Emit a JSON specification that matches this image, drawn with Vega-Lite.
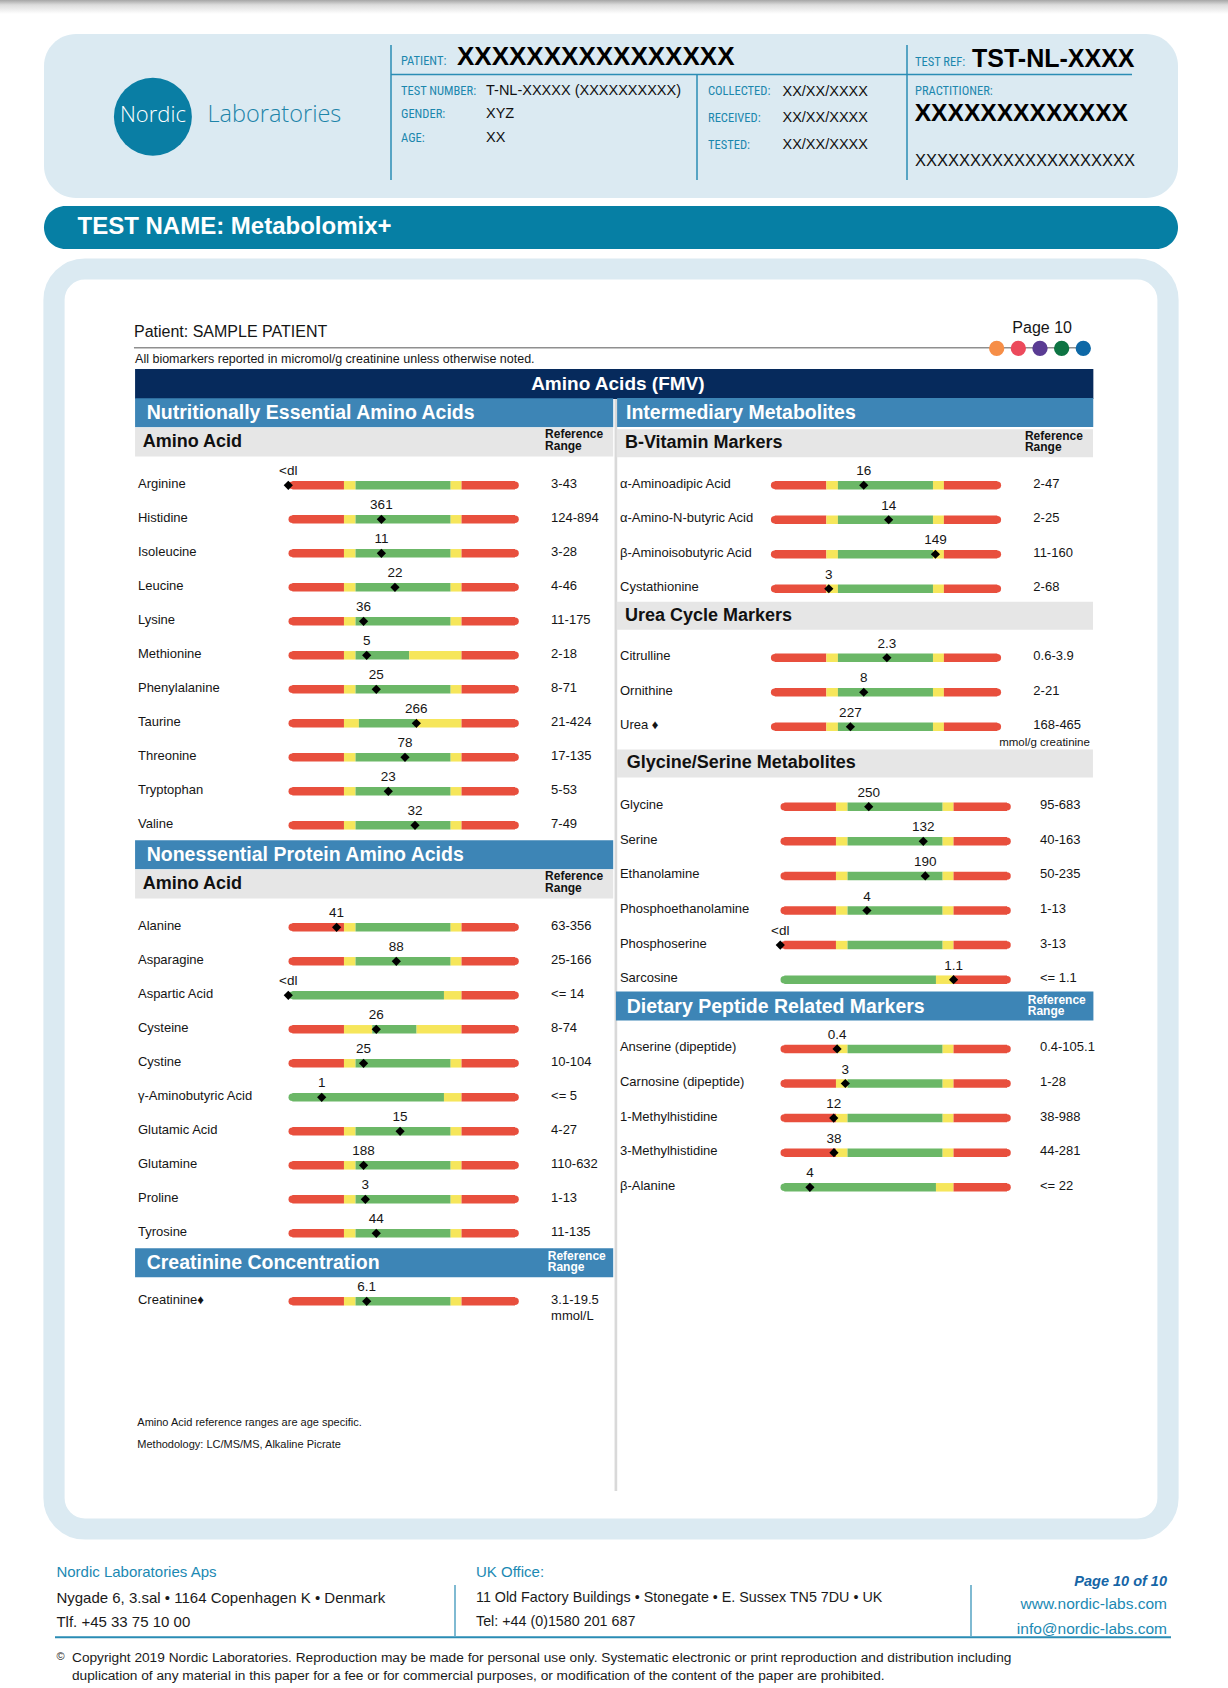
{
  "$schema": "https://vega.github.io/schema/vega-lite/v6.json",
  "background": "white",
  "padding": {"left": 0, "top": 0, "right": 0, "bottom": 0},
  "config": {
    "view": {"stroke": null},
    "axis": {"disable": true},
    "legend": {"disable": true},
    "text": {"font": "Liberation Sans, Arial, Helvetica, sans-serif", "color": "#151515"}
  },
  "datasets": {
    "profiles": [
      {"profile": "std", "a": [0, 23.2, 28.4, 71.1, 76], "b": [23.2, 28.4, 71.1, 76, 100], "z": ["out", "edge", "in", "edge", "out"]},
      {"profile": "met", "a": [0, 23.2, 28.4, 52.5, 76], "b": [23.2, 28.4, 52.5, 76, 100], "z": ["out", "edge", "in", "edge", "out"]},
      {"profile": "tau", "a": [0, 23.2, 29.9, 55.1, 76], "b": [23.2, 29.9, 55.1, 76, 100], "z": ["out", "edge", "in", "edge", "out"]},
      {"profile": "cys", "a": [0, 23.2, 35.9, 55.8, 76], "b": [23.2, 35.9, 55.8, 76, 100], "z": ["out", "edge", "in", "edge", "out"]},
      {"profile": "max", "a": [0, 68.1, 76], "b": [68.1, 76, 100], "z": ["in", "edge", "out"]}
    ],
    "left": [
      {"row": "Arginine", "val": "<dl", "pos": -1.8, "range": "3-43", "profile": "std"},
      {"row": "Histidine", "val": "361", "pos": 40.0, "range": "124-894", "profile": "std"},
      {"row": "Isoleucine", "val": "11", "pos": 40.0, "range": "3-28", "profile": "std"},
      {"row": "Leucine", "val": "22", "pos": 46.1, "range": "4-46", "profile": "std"},
      {"row": "Lysine", "val": "36", "pos": 32.0, "range": "11-175", "profile": "std"},
      {"row": "Methionine", "val": "5", "pos": 33.4, "range": "2-18", "profile": "met"},
      {"row": "Phenylalanine", "val": "25", "pos": 37.7, "range": "8-71", "profile": "std"},
      {"row": "Taurine", "val": "266", "pos": 55.7, "range": "21-424", "profile": "tau"},
      {"row": "Threonine", "val": "78", "pos": 50.6, "range": "17-135", "profile": "std"},
      {"row": "Tryptophan", "val": "23", "pos": 43.1, "range": "5-53", "profile": "std"},
      {"row": "Valine", "val": "32", "pos": 55.1, "range": "7-49", "profile": "std"},
      {"row": "Alanine", "val": "41", "pos": 19.9, "range": "63-356", "profile": "std"},
      {"row": "Asparagine", "val": "88", "pos": 46.7, "range": "25-166", "profile": "std"},
      {"row": "Aspartic Acid", "val": "<dl", "pos": -1.8, "range": "<= 14", "profile": "max"},
      {"row": "Cysteine", "val": "26", "pos": 37.7, "range": "8-74", "profile": "cys"},
      {"row": "Cystine", "val": "25", "pos": 32.0, "range": "10-104", "profile": "std"},
      {"row": "γ-Aminobutyric Acid", "val": "1", "pos": 13.2, "range": "<= 5", "profile": "max"},
      {"row": "Glutamic Acid", "val": "15", "pos": 48.4, "range": "4-27", "profile": "std"},
      {"row": "Glutamine", "val": "188", "pos": 32.0, "range": "110-632", "profile": "std"},
      {"row": "Proline", "val": "3", "pos": 32.8, "range": "1-13", "profile": "std"},
      {"row": "Tyrosine", "val": "44", "pos": 37.7, "range": "11-135", "profile": "std"},
      {"row": "Creatinine♦", "val": "6.1", "pos": 33.4, "range": "3.1-19.5", "unit": "mmol/L", "profile": "std"}
    ],
    "leftHead": [
      {"row": "h1", "kind": "blue", "label": "Nutritionally Essential Amino Acids"},
      {"row": "h2", "kind": "grey", "label": "Amino Acid", "ref": "Reference\nRange"},
      {"row": "h3", "kind": "blue", "label": "Nonessential Protein Amino Acids"},
      {"row": "h4", "kind": "grey", "label": "Amino Acid", "ref": "Reference\nRange"},
      {"row": "h5", "kind": "blue", "label": "Creatinine Concentration", "ref": "Reference\nRange"},
      {"row": "notes", "kind": "note", "label": "Amino Acid reference ranges are age specific.\nMethodology: LC/MS/MS, Alkaline Picrate"}
    ],
    "ru": [
      {"row": "α-Aminoadipic Acid", "val": "16", "pos": 40.0, "range": "2-47", "profile": "std"},
      {"row": "α-Amino-N-butyric Acid", "val": "14", "pos": 51.2, "range": "2-25", "profile": "std"},
      {"row": "β-Aminoisobutyric Acid", "val": "149", "pos": 72.2, "range": "11-160", "profile": "std"},
      {"row": "Cystathionine", "val": "3", "pos": 24.3, "range": "2-68", "profile": "std"},
      {"row": "Citrulline", "val": "2.3", "pos": 50.4, "range": "0.6-3.9", "profile": "std"},
      {"row": "Ornithine", "val": "8", "pos": 40.0, "range": "2-21", "profile": "std"},
      {"row": "Urea ♦", "val": "227", "pos": 34.0, "range": "168-465", "unit": "mmol/g creatinine", "profile": "std"}
    ],
    "ruHead": [
      {"row": "i1", "kind": "blue", "label": "Intermediary Metabolites"},
      {"row": "i2", "kind": "grey", "label": "B-Vitamin Markers", "ref": "Reference\nRange"},
      {"row": "u1", "kind": "grey", "label": "Urea Cycle Markers"}
    ],
    "rl": [
      {"row": "Glycine", "val": "250", "pos": 37.9, "range": "95-683", "profile": "std"},
      {"row": "Serine", "val": "132", "pos": 62.4, "range": "40-163", "profile": "std"},
      {"row": "Ethanolamine", "val": "190", "pos": 63.3, "range": "50-235", "profile": "std"},
      {"row": "Phosphoethanolamine", "val": "4", "pos": 37.1, "range": "1-13", "profile": "std"},
      {"row": "Phosphoserine", "val": "<dl", "pos": -1.8, "range": "3-13", "profile": "std"},
      {"row": "Sarcosine", "val": "1.1", "pos": 76.0, "range": "<= 1.1", "profile": "max"},
      {"row": "Anserine (dipeptide)", "val": "0.4", "pos": 23.7, "range": "0.4-105.1", "profile": "std"},
      {"row": "Carnosine (dipeptide)", "val": "3", "pos": 27.4, "range": "1-28", "profile": "std"},
      {"row": "1-Methylhistidine", "val": "12", "pos": 22.2, "range": "38-988", "profile": "std"},
      {"row": "3-Methylhistidine", "val": "38", "pos": 22.3, "range": "44-281", "profile": "std"},
      {"row": "β-Alanine", "val": "4", "pos": 11.5, "range": "<= 22", "profile": "max"}
    ],
    "rlHead": [
      {"row": "g1", "kind": "grey", "label": "Glycine/Serine Metabolites"},
      {"row": "d1", "kind": "blue", "label": "Dietary Peptide Related Markers", "ref": "Reference\nRange"}
    ]
  },
  "spacing": 8,
  "center": true,
  "bounds": "flush",
  "vconcat": [
    {
      "width": 1222,
      "height": 26,
      "data": {"values": [{"t": "page edge shadow"}]},
      "mark": {"type": "rect", "color": {"gradient": "linear", "x1": 0, "y1": 0, "x2": 0, "y2": 1, "stops": [{"offset": 0, "color": "#a6a6a6"}, {"offset": 0.35, "color": "#dcdcdc"}, {"offset": 1, "color": "#ffffff"}]}},
      "encoding": {
        "x": {"datum": 0, "scale": {"domain": [0, 1222], "range": [0, 1222], "nice": false, "zero": false}},
        "x2": {"datum": 1228},
        "y": {"datum": 0, "scale": {"domain": [0, 26], "range": [0, 26], "nice": false, "zero": false}},
        "y2": {"datum": 14}
      }
    },
    {
      "width": 1134,
      "height": 164,
      "view": {"fill": "#dbeaf2", "cornerRadius": 32, "stroke": null},
      "layer": [
        {"data": {"values": [{"t": "logo"}]}, "mark": {"type": "circle", "size": 6082, "opacity": 1, "color": "#0a7ea4"},
         "encoding": {"x": {"datum": 108.9, "scale": {"domain": [0, 1134], "range": [0, 1134], "nice": false, "zero": false}}, "y": {"datum": 82.7, "scale": {"domain": [0, 164], "range": [0, 164], "nice": false, "zero": false}}}},
        {"data": {"values": [{"t": "Nordic"}]}, "mark": {"type": "text", "font": "Open Sans, Lato, sans-serif", "fontWeight": 300, "fontSize": 22, "color": "white"},
         "encoding": {"x": {"datum": 108.9}, "y": {"datum": 81}, "text": {"field": "t"}}},
        {"data": {"values": [{"t": "Laboratories"}]}, "mark": {"type": "text", "align": "left", "font": "Open Sans, Lato, sans-serif", "fontWeight": 300, "fontSize": 23.5, "color": "#1d84a9"},
         "encoding": {"x": {"datum": 163.5}, "y": {"datum": 81}, "text": {"field": "t"}}},
        {"data": {"values": [{"t": "divider"}]}, "mark": {"type": "rule", "color": "#2a8db5", "strokeWidth": 1.5},
         "encoding": {"x": {"datum": 347}, "y": {"datum": 11}, "y2": {"datum": 146}}},
        {"data": {"values": [{"t": "divider"}]}, "mark": {"type": "rule", "color": "#2a8db5", "strokeWidth": 1.5},
         "encoding": {"x": {"datum": 653}, "y": {"datum": 41}, "y2": {"datum": 146}}},
        {"data": {"values": [{"t": "divider"}]}, "mark": {"type": "rule", "color": "#2a8db5", "strokeWidth": 1.5},
         "encoding": {"x": {"datum": 863}, "y": {"datum": 11}, "y2": {"datum": 146}}},
        {"data": {"values": [{"t": "divider"}]}, "mark": {"type": "rule", "color": "#2a8db5", "strokeWidth": 1.5},
         "encoding": {"x": {"datum": 347}, "x2": {"datum": 1088}, "y": {"datum": 40.5}}},
        {"data": {"values": [{"t": "PATIENT:"}]}, "mark": {"type": "text", "align": "left", "font": "Liberation Sans Narrow, Arial Narrow, Roboto Condensed, DejaVu Sans Condensed, sans-serif", "fontSize": 12.5, "color": "#1b87ae"},
         "encoding": {"x": {"datum": 357}, "y": {"datum": 27}, "text": {"field": "t"}}},
        {"data": {"values": [{"t": "XXXXXXXXXXXXXXXX"}]}, "mark": {"type": "text", "align": "left", "fontSize": 26, "fontWeight": "bold", "color": "#000"},
         "encoding": {"x": {"datum": 413}, "y": {"datum": 23}, "text": {"field": "t"}}},
        {"data": {"values": [{"t": "TEST NUMBER:\nGENDER:\nAGE:"}]}, "mark": {"type": "text", "align": "left", "baseline": "top", "lineBreak": "\n", "lineHeight": 23.7, "font": "Liberation Sans Narrow, Arial Narrow, Roboto Condensed, DejaVu Sans Condensed, sans-serif", "fontSize": 12.5, "color": "#1b87ae"},
         "encoding": {"x": {"datum": 357}, "y": {"datum": 50.6}, "text": {"field": "t"}}},
        {"data": {"values": [{"t": "T-NL-XXXXX (XXXXXXXXXX)\nXYZ\nXX"}]}, "mark": {"type": "text", "align": "left", "baseline": "top", "lineBreak": "\n", "lineHeight": 23.7, "fontSize": 14.5, "color": "#111"},
         "encoding": {"x": {"datum": 442}, "y": {"datum": 49.8}, "text": {"field": "t"}}},
        {"data": {"values": [{"t": "COLLECTED:\nRECEIVED:\nTESTED:"}]}, "mark": {"type": "text", "align": "left", "baseline": "top", "lineBreak": "\n", "lineHeight": 26.7, "font": "Liberation Sans Narrow, Arial Narrow, Roboto Condensed, DejaVu Sans Condensed, sans-serif", "fontSize": 12.5, "color": "#1b87ae"},
         "encoding": {"x": {"datum": 664}, "y": {"datum": 51.3}, "text": {"field": "t"}}},
        {"data": {"values": [{"t": "XX/XX/XXXX\nXX/XX/XXXX\nXX/XX/XXXX"}]}, "mark": {"type": "text", "align": "left", "baseline": "top", "lineBreak": "\n", "lineHeight": 26.7, "fontSize": 14.5, "color": "#111"},
         "encoding": {"x": {"datum": 738.5}, "y": {"datum": 50.5}, "text": {"field": "t"}}},
        {"data": {"values": [{"t": "TEST REF:"}]}, "mark": {"type": "text", "align": "left", "font": "Liberation Sans Narrow, Arial Narrow, Roboto Condensed, DejaVu Sans Condensed, sans-serif", "fontSize": 12.5, "color": "#1b87ae"},
         "encoding": {"x": {"datum": 871}, "y": {"datum": 27.7}, "text": {"field": "t"}}},
        {"data": {"values": [{"t": "TST-NL-XXXX"}]}, "mark": {"type": "text", "align": "left", "fontSize": 25, "fontWeight": "bold", "color": "#000"},
         "encoding": {"x": {"datum": 928}, "y": {"datum": 25.3}, "text": {"field": "t"}}},
        {"data": {"values": [{"t": "PRACTITIONER:"}]}, "mark": {"type": "text", "align": "left", "font": "Liberation Sans Narrow, Arial Narrow, Roboto Condensed, DejaVu Sans Condensed, sans-serif", "fontSize": 12.5, "color": "#1b87ae"},
         "encoding": {"x": {"datum": 871}, "y": {"datum": 56.7}, "text": {"field": "t"}}},
        {"data": {"values": [{"t": "XXXXXXXXXXXXX"}]}, "mark": {"type": "text", "align": "left", "fontSize": 24.6, "fontWeight": "bold", "color": "#000"},
         "encoding": {"x": {"datum": 870.7}, "y": {"datum": 80.3}, "text": {"field": "t"}}},
        {"data": {"values": [{"t": "XXXXXXXXXXXXXXXXXXXX"}]}, "mark": {"type": "text", "align": "left", "fontSize": 16.5, "color": "#111"},
         "encoding": {"x": {"datum": 871}, "y": {"datum": 126.7}, "text": {"field": "t"}}}
      ]
    },
    {
      "width": 1134,
      "height": 43,
      "view": {"fill": "#067fa4", "cornerRadius": 21.5, "stroke": null},
      "data": {"values": [{"t": "TEST NAME: Metabolomix+"}]},
      "mark": {"type": "text", "align": "left", "color": "white", "fontSize": 24, "fontWeight": "bold"},
      "encoding": {
        "text": {"field": "t"},
        "x": {"datum": 33.5, "scale": {"domain": [0, 1134], "range": [0, 1134], "nice": false, "zero": false}},
        "y": {"datum": 20.7, "scale": {"domain": [0, 43], "range": [0, 43], "nice": false, "zero": false}}
      }
    },
    {
      "width": 1134,
      "height": 4,
      "data": {"values": []},
      "mark": {"type": "point"}
    },
    {
      "width": 1114,
      "height": 1260,
      "view": {"fill": "white", "stroke": "#dbeaf2", "strokeWidth": 21.2, "cornerRadius": 31},
      "resolve": {"scale": {"x": "independent", "y": "independent", "color": "independent"}},
      "layer": [
        {
          "layer": [
            {"data": {"values": [{"slot": "top1"}]},
             "mark": {"type": "bar", "color": "#062a5c", "height": 30},
             "encoding": {
               "y": {"field": "slot", "type": "nominal", "scale": {"domain": ["top2", "top1"], "range": [60.5, 133.1], "paddingInner": 0, "paddingOuter": 0}},
               "x": {"datum": -70.6, "scale": {"domain": [0, 100], "range": [238.3, 461], "nice": false, "zero": false}},
               "x2": {"datum": 359.7}}},
            {"data": {"values": [{"slot": "top1", "t": "Amino Acids (FMV)"}]},
             "mark": {"type": "text", "color": "white", "fontSize": 19, "fontWeight": "bold"},
             "encoding": {"y": {"field": "slot", "type": "nominal"}, "x": {"datum": 146.2}, "text": {"field": "t"}}},
            {"data": {"values": [{"slot": "top2"}]},
             "mark": {"type": "bar", "color": "#8f8f8f", "height": 1.5},
             "encoding": {"y": {"field": "slot", "type": "nominal"}, "x": {"datum": -71.1}, "x2": {"datum": 356}}},
            {"data": {"values": [{"slot": "top2", "t": "Patient: SAMPLE PATIENT"}]},
             "mark": {"type": "text", "align": "left", "fontSize": 16, "dy": -16},
             "encoding": {"y": {"field": "slot", "type": "nominal"}, "x": {"datum": -71.1}, "text": {"field": "t"}}},
            {"data": {"values": [{"slot": "top2", "t": "Page 10"}]},
             "mark": {"type": "text", "align": "right", "fontSize": 16, "dy": -20},
             "encoding": {"y": {"field": "slot", "type": "nominal"}, "x": {"datum": 350.1}, "text": {"field": "t"}}},
            {"data": {"values": [{"slot": "top2", "t": "All biomarkers reported in micromol/g creatinine unless otherwise noted."}]},
             "mark": {"type": "text", "align": "left", "fontSize": 12.5, "dy": 11.6},
             "encoding": {"y": {"field": "slot", "type": "nominal"}, "x": {"datum": -70.6}, "text": {"field": "t"}}}
          ]
        },
        {
          "data": {"values": [{"dot": "orange", "g": "dots"}, {"dot": "red", "g": "dots"}, {"dot": "purple", "g": "dots"}, {"dot": "green", "g": "dots"}, {"dot": "blue", "g": "dots"}]},
          "mark": {"type": "circle", "size": 235, "opacity": 1},
          "encoding": {
            "x": {"field": "dot", "type": "nominal", "scale": {"type": "point", "domain": ["orange", "red", "purple", "green", "blue"], "range": [942.7, 1029.3], "padding": 0}},
            "y": {"field": "g", "type": "nominal", "scale": {"type": "band", "domain": ["dots"], "range": [70.3, 88.3], "paddingInner": 0, "paddingOuter": 0}},
            "color": {"field": "dot", "type": "nominal", "scale": {"domain": ["orange", "red", "purple", "green", "blue"], "range": ["#f68e47", "#ec4a5c", "#5a3c93", "#0e7443", "#0e68a6"]}}
          }
        },
        {
          "data": {"values": [{"slot": "sep"}]},
          "mark": {"type": "bar", "color": "#d9d9d9"},
          "encoding": {
            "y": {"field": "slot", "type": "nominal", "scale": {"domain": ["sep"], "range": [130, 1222], "paddingInner": 0, "paddingOuter": 0}},
            "x": {"datum": 144.7, "scale": {"domain": [0, 100], "range": [238.3, 461], "nice": false, "zero": false}},
            "x2": {"datum": 145.9}
          }
        },
        {
          "layer": [
            {"data": {"name": "leftHead"}, "transform": [{"filter": "datum.kind == 'blue'"}],
             "mark": {"type": "bar", "color": "#3d85b6", "height": 29, "yOffset": -4.5},
             "encoding": {
               "y": {"field": "row", "type": "nominal", "scale": {"domain": ["h1", "h2", "Arginine", "Histidine", "Isoleucine", "Leucine", "Lysine", "Methionine", "Phenylalanine", "Taurine", "Threonine", "Tryptophan", "Valine", "h3", "h4", "Alanine", "Asparagine", "Aspartic Acid", "Cysteine", "Cystine", "γ-Aminobutyric Acid", "Glutamic Acid", "Glutamine", "Proline", "Tyrosine", "h5", "Creatinine♦", "b1", "b2", "b3", "notes", "b4"], "range": [131.3, 1219.3], "paddingInner": 0, "paddingOuter": 0}},
               "x": {"datum": -70.6, "scale": {"domain": [0, 100], "range": [238.3, 461], "nice": false, "zero": false}},
               "x2": {"datum": 144.1}}},
            {"data": {"name": "leftHead"}, "transform": [{"filter": "datum.kind == 'grey'"}],
             "mark": {"type": "bar", "color": "#e6e6e6", "height": 29, "yOffset": -9.3},
             "encoding": {"y": {"field": "row", "type": "nominal"}, "x": {"datum": -70.6}, "x2": {"datum": 144.1}}},
            {"data": {"name": "leftHead"}, "transform": [{"filter": "datum.kind == 'blue'"}],
             "mark": {"type": "text", "align": "left", "color": "white", "fontSize": 19.5, "fontWeight": "bold", "dy": -4.5},
             "encoding": {"y": {"field": "row", "type": "nominal"}, "x": {"datum": -65.4}, "text": {"field": "label"}}},
            {"data": {"name": "leftHead"}, "transform": [{"filter": "datum.kind == 'grey'"}],
             "mark": {"type": "text", "align": "left", "fontSize": 18, "fontWeight": "bold", "color": "#111", "dy": -9.3},
             "encoding": {"y": {"field": "row", "type": "nominal"}, "x": {"datum": -67.2}, "text": {"field": "label"}}},
            {"data": {"name": "leftHead"}, "transform": [{"filter": "datum.kind == 'grey' && datum.ref"}],
             "mark": {"type": "text", "align": "left", "baseline": "top", "lineBreak": "\n", "lineHeight": 11.5, "fontSize": 12, "fontWeight": "bold", "color": "#111", "dy": -22},
             "encoding": {"y": {"field": "row", "type": "nominal"}, "x": {"datum": 113.5}, "text": {"field": "ref"}}},
            {"data": {"name": "leftHead"}, "transform": [{"filter": "datum.kind == 'blue' && datum.ref"}],
             "mark": {"type": "text", "align": "left", "baseline": "top", "lineBreak": "\n", "lineHeight": 11.5, "fontSize": 12, "fontWeight": "bold", "color": "white", "dy": -16.5},
             "encoding": {"y": {"field": "row", "type": "nominal"}, "x": {"datum": 114.7}, "text": {"field": "ref"}}},
            {"data": {"name": "left"},
             "transform": [{"lookup": "profile", "from": {"data": {"name": "profiles"}, "key": "profile", "fields": ["a", "b", "z"]}}, {"flatten": ["a", "b", "z"]}],
             "mark": {"type": "bar", "height": 8.5},
             "encoding": {"y": {"field": "row", "type": "nominal"}, "x": {"field": "a", "type": "quantitative"}, "x2": {"field": "b"},
               "color": {"field": "z", "type": "nominal", "scale": {"domain": ["out", "edge", "in"], "range": ["#e84f3d", "#f6e65b", "#6bb767"]}}}},
            {"data": {"name": "left"},
             "transform": [{"lookup": "profile", "from": {"data": {"name": "profiles"}, "key": "profile", "fields": ["a", "b", "z"]}}, {"flatten": ["a", "b", "z"]}, {"filter": "datum.a == 0"}],
             "mark": {"type": "circle", "size": 57, "opacity": 1},
             "encoding": {"y": {"field": "row", "type": "nominal"}, "x": {"field": "a", "type": "quantitative"}, "color": {"field": "z", "type": "nominal"}}},
            {"data": {"name": "left"},
             "transform": [{"lookup": "profile", "from": {"data": {"name": "profiles"}, "key": "profile", "fields": ["a", "b", "z"]}}, {"flatten": ["a", "b", "z"]}, {"filter": "datum.b == 100"}],
             "mark": {"type": "circle", "size": 57, "opacity": 1},
             "encoding": {"y": {"field": "row", "type": "nominal"}, "x": {"field": "b", "type": "quantitative"}, "color": {"field": "z", "type": "nominal"}}},
            {"data": {"name": "left"},
             "mark": {"type": "point", "shape": "diamond", "filled": true, "color": "#000", "size": 85, "opacity": 1},
             "encoding": {"y": {"field": "row", "type": "nominal"}, "x": {"field": "pos", "type": "quantitative"}}},
            {"data": {"name": "left"},
             "mark": {"type": "text", "fontSize": 13.5, "dy": -14},
             "encoding": {"y": {"field": "row", "type": "nominal"}, "x": {"field": "pos", "type": "quantitative"}, "text": {"field": "val"}}},
            {"data": {"name": "left"},
             "mark": {"type": "text", "align": "left", "fontSize": 13, "dy": -1.5},
             "encoding": {"y": {"field": "row", "type": "nominal"}, "x": {"datum": -69.3}, "text": {"field": "row"}}},
            {"data": {"name": "left"},
             "mark": {"type": "text", "align": "left", "fontSize": 13, "dy": -1.5},
             "encoding": {"y": {"field": "row", "type": "nominal"}, "x": {"datum": 116.2}, "text": {"field": "range"}}},
            {"data": {"name": "left"}, "transform": [{"filter": "datum.unit"}],
             "mark": {"type": "text", "align": "left", "fontSize": 13, "dy": 15},
             "encoding": {"y": {"field": "row", "type": "nominal"}, "x": {"datum": 116.2}, "text": {"field": "unit"}}},
            {"data": {"name": "leftHead"}, "transform": [{"filter": "datum.kind == 'note'"}],
             "mark": {"type": "text", "align": "left", "baseline": "top", "lineBreak": "\n", "lineHeight": 21.6, "fontSize": 11, "dy": -20.3},
             "encoding": {"y": {"field": "row", "type": "nominal"}, "x": {"datum": -69.6}, "text": {"field": "label"}}}
          ]
        },
        {
          "layer": [
            {"data": {"name": "ruHead"}, "transform": [{"filter": "datum.kind == 'blue'"}],
             "mark": {"type": "bar", "color": "#3d85b6", "height": 29, "yOffset": -3.75},
             "encoding": {
               "y": {"field": "row", "type": "nominal", "scale": {"domain": ["i1", "i2", "α-Aminoadipic Acid", "α-Amino-N-butyric Acid", "β-Aminoisobutyric Acid", "Cystathionine", "u1", "Citrulline", "Ornithine", "Urea ♦"], "range": [130, 475], "paddingInner": 0, "paddingOuter": 0}},
               "x": {"datum": -70.8, "scale": {"domain": [0, 100], "range": [720.7, 943.3], "nice": false, "zero": false}},
               "x2": {"datum": 143.1}}},
            {"data": {"name": "ruHead"}, "transform": [{"filter": "datum.kind == 'grey'"}],
             "mark": {"type": "bar", "color": "#e6e6e6", "height": 28, "yOffset": -7.5},
             "encoding": {"y": {"field": "row", "type": "nominal"}, "x": {"datum": -71.0}, "x2": {"datum": 143.0}}},
            {"data": {"name": "ruHead"}, "transform": [{"filter": "datum.kind == 'blue'"}],
             "mark": {"type": "text", "align": "left", "color": "white", "fontSize": 19.5, "fontWeight": "bold", "dy": -3.3},
             "encoding": {"y": {"field": "row", "type": "nominal"}, "x": {"datum": -66.8}, "text": {"field": "label"}}},
            {"data": {"name": "ruHead"}, "transform": [{"filter": "datum.kind == 'grey'"}],
             "mark": {"type": "text", "align": "left", "fontSize": 18, "fontWeight": "bold", "color": "#111", "dy": -7.3},
             "encoding": {"y": {"field": "row", "type": "nominal"}, "x": {"datum": -67.3}, "text": {"field": "label"}}},
            {"data": {"name": "ruHead"}, "transform": [{"filter": "datum.kind == 'grey' && datum.ref"}],
             "mark": {"type": "text", "align": "left", "baseline": "top", "lineBreak": "\n", "lineHeight": 11.5, "fontSize": 12, "fontWeight": "bold", "color": "#111", "dy": -20},
             "encoding": {"y": {"field": "row", "type": "nominal"}, "x": {"datum": 112.4}, "text": {"field": "ref"}}},
            {"data": {"name": "ru"},
             "transform": [{"lookup": "profile", "from": {"data": {"name": "profiles"}, "key": "profile", "fields": ["a", "b", "z"]}}, {"flatten": ["a", "b", "z"]}],
             "mark": {"type": "bar", "height": 8.5},
             "encoding": {"y": {"field": "row", "type": "nominal"}, "x": {"field": "a", "type": "quantitative"}, "x2": {"field": "b"},
               "color": {"field": "z", "type": "nominal", "scale": {"domain": ["out", "edge", "in"], "range": ["#e84f3d", "#f6e65b", "#6bb767"]}}}},
            {"data": {"name": "ru"},
             "transform": [{"lookup": "profile", "from": {"data": {"name": "profiles"}, "key": "profile", "fields": ["a", "b", "z"]}}, {"flatten": ["a", "b", "z"]}, {"filter": "datum.a == 0"}],
             "mark": {"type": "circle", "size": 57, "opacity": 1},
             "encoding": {"y": {"field": "row", "type": "nominal"}, "x": {"field": "a", "type": "quantitative"}, "color": {"field": "z", "type": "nominal"}}},
            {"data": {"name": "ru"},
             "transform": [{"lookup": "profile", "from": {"data": {"name": "profiles"}, "key": "profile", "fields": ["a", "b", "z"]}}, {"flatten": ["a", "b", "z"]}, {"filter": "datum.b == 100"}],
             "mark": {"type": "circle", "size": 57, "opacity": 1},
             "encoding": {"y": {"field": "row", "type": "nominal"}, "x": {"field": "b", "type": "quantitative"}, "color": {"field": "z", "type": "nominal"}}},
            {"data": {"name": "ru"},
             "mark": {"type": "point", "shape": "diamond", "filled": true, "color": "#000", "size": 85, "opacity": 1},
             "encoding": {"y": {"field": "row", "type": "nominal"}, "x": {"field": "pos", "type": "quantitative"}}},
            {"data": {"name": "ru"},
             "mark": {"type": "text", "fontSize": 13.5, "dy": -14},
             "encoding": {"y": {"field": "row", "type": "nominal"}, "x": {"field": "pos", "type": "quantitative"}, "text": {"field": "val"}}},
            {"data": {"name": "ru"},
             "mark": {"type": "text", "align": "left", "fontSize": 13, "dy": -1.5},
             "encoding": {"y": {"field": "row", "type": "nominal"}, "x": {"datum": -69.5}, "text": {"field": "row"}}},
            {"data": {"name": "ru"},
             "mark": {"type": "text", "align": "left", "fontSize": 13, "dy": -1.5},
             "encoding": {"y": {"field": "row", "type": "nominal"}, "x": {"datum": 116.2}, "text": {"field": "range"}}},
            {"data": {"name": "ru"}, "transform": [{"filter": "datum.unit"}],
             "mark": {"type": "text", "align": "right", "fontSize": 11.5, "dy": 16},
             "encoding": {"y": {"field": "row", "type": "nominal"}, "x": {"datum": 141.6}, "text": {"field": "unit"}}}
          ]
        },
        {
          "layer": [
            {"data": {"name": "rlHead"}, "transform": [{"filter": "datum.kind == 'grey'"}],
             "mark": {"type": "bar", "color": "#e6e6e6", "height": 28, "yOffset": -8.6},
             "encoding": {
               "y": {"field": "row", "type": "nominal", "scale": {"domain": ["g1", "Glycine", "Serine", "Ethanolamine", "Phosphoethanolamine", "Phosphoserine", "Sarcosine", "d1", "Anserine (dipeptide)", "Carnosine (dipeptide)", "1-Methylhistidine", "3-Methylhistidine", "β-Alanine"], "range": [485.8, 935.6], "paddingInner": 0, "paddingOuter": 0}},
               "x": {"datum": -75.1, "scale": {"domain": [0, 100], "range": [730.3, 953], "nice": false, "zero": false}},
               "x2": {"datum": 138.6}}},
            {"data": {"name": "rlHead"}, "transform": [{"filter": "datum.kind == 'blue'"}],
             "mark": {"type": "bar", "color": "#3d85b6", "height": 29, "yOffset": -8.3},
             "encoding": {"y": {"field": "row", "type": "nominal"}, "x": {"datum": -75.6}, "x2": {"datum": 138.8}}},
            {"data": {"name": "rlHead"}, "transform": [{"filter": "datum.kind == 'grey'"}],
             "mark": {"type": "text", "align": "left", "fontSize": 18, "fontWeight": "bold", "color": "#111", "dy": -8.8},
             "encoding": {"y": {"field": "row", "type": "nominal"}, "x": {"datum": -70.8}, "text": {"field": "label"}}},
            {"data": {"name": "rlHead"}, "transform": [{"filter": "datum.kind == 'blue'"}],
             "mark": {"type": "text", "align": "left", "color": "white", "fontSize": 19.5, "fontWeight": "bold", "dy": -7.6},
             "encoding": {"y": {"field": "row", "type": "nominal"}, "x": {"datum": -70.8}, "text": {"field": "label"}}},
            {"data": {"name": "rlHead"}, "transform": [{"filter": "datum.kind == 'blue' && datum.ref"}],
             "mark": {"type": "text", "align": "left", "baseline": "top", "lineBreak": "\n", "lineHeight": 11.5, "fontSize": 12, "fontWeight": "bold", "color": "white", "dy": -19.5},
             "encoding": {"y": {"field": "row", "type": "nominal"}, "x": {"datum": 109.3}, "text": {"field": "ref"}}},
            {"data": {"name": "rl"},
             "transform": [{"lookup": "profile", "from": {"data": {"name": "profiles"}, "key": "profile", "fields": ["a", "b", "z"]}}, {"flatten": ["a", "b", "z"]}],
             "mark": {"type": "bar", "height": 8.5},
             "encoding": {"y": {"field": "row", "type": "nominal"}, "x": {"field": "a", "type": "quantitative"}, "x2": {"field": "b"},
               "color": {"field": "z", "type": "nominal", "scale": {"domain": ["out", "edge", "in"], "range": ["#e84f3d", "#f6e65b", "#6bb767"]}}}},
            {"data": {"name": "rl"},
             "transform": [{"lookup": "profile", "from": {"data": {"name": "profiles"}, "key": "profile", "fields": ["a", "b", "z"]}}, {"flatten": ["a", "b", "z"]}, {"filter": "datum.a == 0"}],
             "mark": {"type": "circle", "size": 57, "opacity": 1},
             "encoding": {"y": {"field": "row", "type": "nominal"}, "x": {"field": "a", "type": "quantitative"}, "color": {"field": "z", "type": "nominal"}}},
            {"data": {"name": "rl"},
             "transform": [{"lookup": "profile", "from": {"data": {"name": "profiles"}, "key": "profile", "fields": ["a", "b", "z"]}}, {"flatten": ["a", "b", "z"]}, {"filter": "datum.b == 100"}],
             "mark": {"type": "circle", "size": 57, "opacity": 1},
             "encoding": {"y": {"field": "row", "type": "nominal"}, "x": {"field": "b", "type": "quantitative"}, "color": {"field": "z", "type": "nominal"}}},
            {"data": {"name": "rl"},
             "mark": {"type": "point", "shape": "diamond", "filled": true, "color": "#000", "size": 85, "opacity": 1},
             "encoding": {"y": {"field": "row", "type": "nominal"}, "x": {"field": "pos", "type": "quantitative"}}},
            {"data": {"name": "rl"},
             "mark": {"type": "text", "fontSize": 13.5, "dy": -14},
             "encoding": {"y": {"field": "row", "type": "nominal"}, "x": {"field": "pos", "type": "quantitative"}, "text": {"field": "val"}}},
            {"data": {"name": "rl"},
             "mark": {"type": "text", "align": "left", "fontSize": 13, "dy": -1.5},
             "encoding": {"y": {"field": "row", "type": "nominal"}, "x": {"datum": -73.8}, "text": {"field": "row"}}},
            {"data": {"name": "rl"},
             "mark": {"type": "text", "align": "left", "fontSize": 13, "dy": -1.5},
             "encoding": {"y": {"field": "row", "type": "nominal"}, "x": {"datum": 114.8}, "text": {"field": "range"}}}
          ]
        }
      ]
    },
    {
      "width": 1134,
      "height": 151,
      "view": {"stroke": null},
      "layer": [
        {"data": {"values": [{"t": "Nordic Laboratories Aps"}]}, "mark": {"type": "text", "align": "left", "fontSize": 15, "color": "#1b89b3"},
         "encoding": {"x": {"datum": 12.4, "scale": {"domain": [0, 1134], "range": [0, 1134], "nice": false, "zero": false}}, "y": {"datum": 35.3, "scale": {"domain": [0, 151], "range": [0, 151], "nice": false, "zero": false}}, "text": {"field": "t"}}},
        {"data": {"values": [{"t": "UK Office:"}]}, "mark": {"type": "text", "align": "left", "fontSize": 15, "color": "#1b89b3"},
         "encoding": {"x": {"datum": 432}, "y": {"datum": 35.3}, "text": {"field": "t"}}},
        {"data": {"values": [{"t": "Nygade 6, 3.sal • 1164 Copenhagen K • Denmark\nTlf. +45 33 75 10 00"}]}, "mark": {"type": "text", "align": "left", "baseline": "top", "lineBreak": "\n", "lineHeight": 24, "fontSize": 15, "color": "#1a1a1a"},
         "encoding": {"x": {"datum": 12.4}, "y": {"datum": 53.9}, "text": {"field": "t"}}},
        {"data": {"values": [{"t": "11 Old Factory Buildings • Stonegate • E. Sussex TN5 7DU • UK\nTel: +44 (0)1580 201 687"}]}, "mark": {"type": "text", "align": "left", "baseline": "top", "lineBreak": "\n", "lineHeight": 24, "fontSize": 14.3, "color": "#1a1a1a"},
         "encoding": {"x": {"datum": 432}, "y": {"datum": 54.1}, "text": {"field": "t"}}},
        {"data": {"values": [{"t": "divider"}]}, "mark": {"type": "rule", "color": "#2a8cb4", "strokeWidth": 1.2},
         "encoding": {"x": {"datum": 411}, "y": {"datum": 48}, "y2": {"datum": 99}}},
        {"data": {"values": [{"t": "divider"}]}, "mark": {"type": "rule", "color": "#2a8cb4", "strokeWidth": 1.2},
         "encoding": {"x": {"datum": 927}, "y": {"datum": 48}, "y2": {"datum": 99}}},
        {"data": {"values": [{"t": "divider"}]}, "mark": {"type": "rule", "color": "#2a8cb4", "strokeWidth": 2},
         "encoding": {"x": {"datum": 11}, "x2": {"datum": 1127}, "y": {"datum": 100.3}}},
        {"data": {"values": [{"t": "Page 10 of 10"}]}, "mark": {"type": "text", "align": "right", "fontSize": 14.5, "fontWeight": "bold", "fontStyle": "italic", "color": "#1565a6"},
         "encoding": {"x": {"datum": 1123}, "y": {"datum": 44.7}, "text": {"field": "t"}}},
        {"data": {"values": [{"t": "www.nordic-labs.com\ninfo@nordic-labs.com"}]}, "mark": {"type": "text", "align": "right", "baseline": "top", "lineBreak": "\n", "lineHeight": 25, "fontSize": 15.5, "color": "#1b89b3"},
         "encoding": {"x": {"datum": 1123}, "y": {"datum": 59.6}, "text": {"field": "t"}}},
        {"data": {"values": [{"t": "©"}]}, "mark": {"type": "text", "align": "left", "fontSize": 11, "color": "#1a1a1a"},
         "encoding": {"x": {"datum": 12.5}, "y": {"datum": 120.3}, "text": {"field": "t"}}},
        {"data": {"values": [{"t": "Copyright 2019 Nordic Laboratories. Reproduction may be made for personal use only. Systematic electronic or print reproduction and distribution including\nduplication of any material in this paper for a fee or for commercial purposes, or modification of the content of the paper are prohibited."}]}, "mark": {"type": "text", "align": "left", "baseline": "top", "lineBreak": "\n", "lineHeight": 17.7, "fontSize": 13.7, "color": "#1a1a1a"},
         "encoding": {"x": {"datum": 28}, "y": {"datum": 114.4}, "text": {"field": "t"}}}
      ]
    }
  ]
}
